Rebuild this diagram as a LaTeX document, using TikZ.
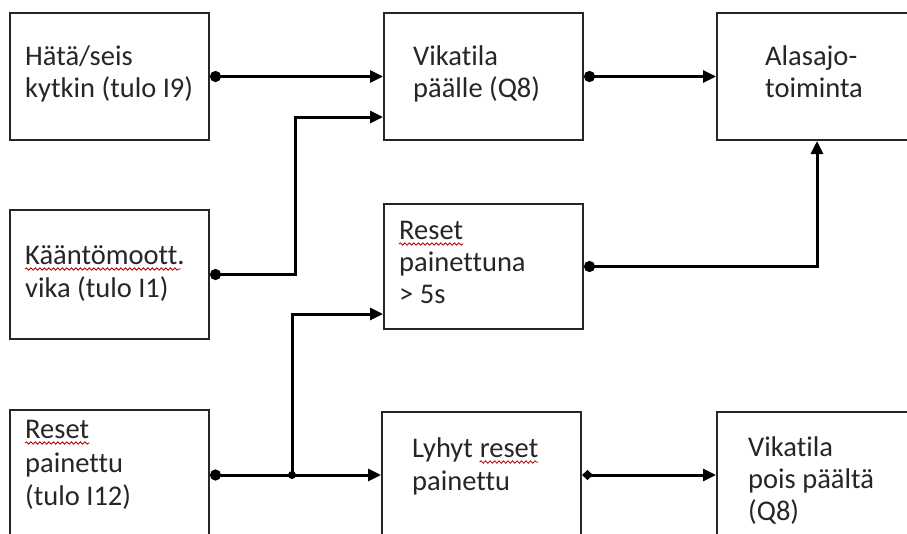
\documentclass[tikz,border=0pt]{standalone}
\usepackage{fontspec}
\setmainfont{Carlito}[Ligatures=NoCommon]
\usetikzlibrary{arrows.meta,decorations.pathmorphing,calc}

\tikzset{
  box/.style={draw=black!85, line width=2pt, rectangle, inner sep=0pt},
  txt/.style={anchor=base west, inner sep=0pt, text=black!85,
              font=\fontsize{28.5}{32}\selectfont},
  conn/.style={line width=3pt, black, -{Triangle[length=13pt,width=12pt]}},
  dotstart/.style={{Circle[length=11pt]}-{Triangle[length=13pt,width=12pt]}},
  diastart/.style={{Diamond[length=11pt,width=10pt]}-{Triangle[length=13pt,width=12pt]}},
  squiggle/.style={draw=red!70!black, line width=0.8pt,
                   decorate, decoration={snake, amplitude=1.2pt, segment length=4.5pt}},
  junction/.style={circle, fill=black, inner sep=0pt, minimum size=8pt}
}

\begin{document}
\begin{tikzpicture}[x=1pt,y=-1pt]
  \useasboundingbox (0,0) rectangle (907,533);
  \clip (0,0) rectangle (907,533);
  \fill[white] (0,0) rectangle (907,533);

  % boxes
  \node[box, minimum width=199pt, minimum height=127pt] (hata)   at (109.5,76.5) {};
  \node[box, minimum width=199pt, minimum height=129pt] (kaanto) at (109.5,274.5) {};
  \node[box, minimum width=199pt, minimum height=130pt] (respa)  at (109.5,475) {};
  \node[box, minimum width=199pt, minimum height=127pt] (vpaal)  at (483.5,76.5) {};
  \node[box, minimum width=199pt, minimum height=125pt] (rfive)  at (483.5,266.5) {};
  \node[box, minimum width=199pt, minimum height=126pt] (lyhyt)  at (481.5,475) {};
  \node[box, minimum width=210pt, minimum height=127pt] (alas)   at (822,76.5) {};
  \node[box, minimum width=210pt, minimum height=126pt] (pois)   at (822,475) {};

  % texts
  \node[txt] (hata1) at (25,65) {Hätä/seis};
  \node[txt] (hata2) at (25,97) {kytkin (tulo I9)};
  \node[txt] (kaanto1) at (25,264) {Kääntömoott.};
  \node[txt] (kaanto2) at (25,297) {vika (tulo I1)};
  \node[txt] (respa1) at (25,438) {Reset};
  \node[txt] (respa2) at (25,472) {painettu};
  \node[txt] (respa3) at (25,505) {(tulo I12)};
  \node[txt] (vpaal1) at (413,65) {Vikatila};
  \node[txt] (vpaal2) at (413,97) {päälle (Q8)};
  \node[txt] (rfive1) at (399,239) {Reset};
  \node[txt] (rfive2) at (399,271) {painettuna};
  \node[txt] (rfive3) at (399,303) {> 5s};
  \node[txt] (lyhyt1) at (412,457) {Lyhyt};
  \node[txt] (lyhyt1b) at ($(lyhyt1.base east)+(6.4,0)$) {reset};
  \node[txt] (lyhyt2) at (412,490) {painettu};
  \node[txt] (alas1) at (765,65) {Alasajo-};
  \node[txt] (alas2) at (765,97) {toiminta};
  \node[txt] (pois1) at (748,456) {Vikatila};
  \node[txt] (pois2) at (748,488) {pois päältä};
  \node[txt] (pois3) at (748,520) {(Q8)};

  % spelling marks under words
  \draw[squiggle] ($(kaanto1.base west)+(0,5)$) -- ($(kaanto1.base east)+(-4,5)$);
  \draw[squiggle] ($(respa1.base west)+(0,5)$) -- ($(respa1.base east)+(0,5)$);
  \draw[squiggle] ($(rfive1.base west)+(0,5)$) -- ($(rfive1.base east)+(0,5)$);
  \draw[squiggle] ($(lyhyt1b.base west)+(0,5)$) -- ($(lyhyt1b.base east)+(0,5)$);

  % routing points
  \coordinate (kaantoup) at (295,0);
  \coordinate (split) at (292,0);
  \coordinate (alasin) at (817,0);

  % connectors
  \draw[conn, dotstart] (hata.east) -- (vpaal.west);
  \draw[conn, dotstart] (kaanto.east) -| (kaantoup |- 0,117) -- (vpaal.west |- 0,117);
  \draw[conn, dotstart] (vpaal.east) -- (alas.west);
  \draw[conn, dotstart] (rfive.east) -| (alasin |- alas.south);
  \draw[conn, dotstart] (respa.east) -- (lyhyt.west);
  \draw[conn] (split |- respa.east) -- (split |- 0,314) -- (rfive.west |- 0,314);
  \node[junction] (splitdot) at (split |- respa.east) {};
  \draw[conn, diastart] (lyhyt.east) -- (pois.west);
\end{tikzpicture}
\end{document}
